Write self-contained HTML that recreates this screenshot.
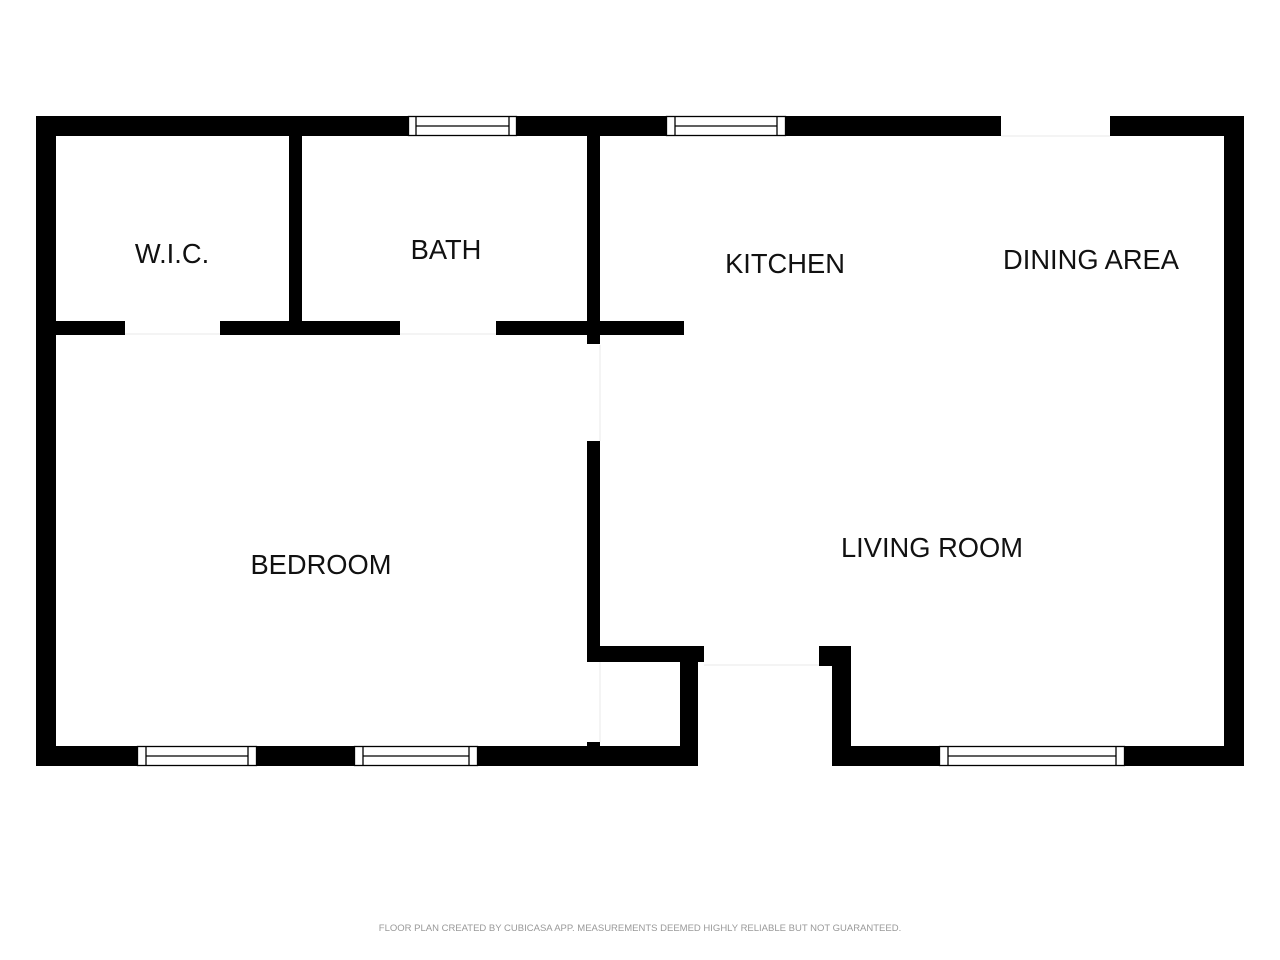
<!DOCTYPE html>
<html><head><meta charset="utf-8"><style>
html,body{margin:0;padding:0;background:#fff;width:1280px;height:960px;overflow:hidden}
svg{display:block}
text{font-family:"Liberation Sans",sans-serif;}
</style></head><body>
<svg width="1280" height="960" viewBox="0 0 1280 960" xmlns="http://www.w3.org/2000/svg">
<g fill="#000">
<rect x="36" y="116" width="965" height="20"/>
<rect x="1110" y="116" width="134" height="20"/>
<rect x="36" y="116" width="20" height="650"/>
<rect x="1224" y="116" width="20" height="650"/>
<rect x="36" y="746" width="662" height="20"/>
<rect x="832" y="746" width="412" height="20"/>
<rect x="289" y="136" width="13" height="192"/>
<rect x="587" y="136" width="13" height="208"/>
<rect x="56" y="321" width="69" height="14"/>
<rect x="220" y="321" width="180" height="14"/>
<rect x="496" y="321" width="188" height="14"/>
<rect x="587" y="441" width="13" height="221"/>
<rect x="587" y="742" width="13" height="6"/>
<rect x="587" y="646" width="117" height="16"/>
<rect x="680" y="646" width="18" height="120"/>
<rect x="819" y="646" width="32" height="20"/>
<rect x="832" y="646" width="19" height="120"/>
</g>
<g fill="none" stroke="#e8e8e8" stroke-width="1">
<line x1="704" y1="665" x2="819" y2="665"/>
<line x1="600" y1="345" x2="600" y2="441"/>
<line x1="600" y1="662" x2="600" y2="742"/>
<line x1="125" y1="334" x2="220" y2="334"/>
<line x1="400" y1="334" x2="496" y2="334"/>
<line x1="1001" y1="136" x2="1110" y2="136"/>
</g>
<g fill="#fff" stroke="#000" stroke-width="1.3">
<rect x="408.5" y="116.5" width="108" height="19"/><line x1="416" y1="117" x2="416" y2="135"/><line x1="509" y1="117" x2="509" y2="135"/><line x1="416" y1="126" x2="509" y2="126"/>
<rect x="666.5" y="116.5" width="119" height="19"/><line x1="675" y1="117" x2="675" y2="135"/><line x1="777" y1="117" x2="777" y2="135"/><line x1="675" y1="126" x2="777" y2="126"/>
<rect x="137.5" y="746.5" width="119" height="19"/><line x1="146" y1="747" x2="146" y2="765"/><line x1="248" y1="747" x2="248" y2="765"/><line x1="146" y1="756" x2="248" y2="756"/>
<rect x="354.5" y="746.5" width="123" height="19"/><line x1="363" y1="747" x2="363" y2="765"/><line x1="469" y1="747" x2="469" y2="765"/><line x1="363" y1="756" x2="469" y2="756"/>
<rect x="939.5" y="746.5" width="185" height="19"/><line x1="948" y1="747" x2="948" y2="765"/><line x1="1116" y1="747" x2="1116" y2="765"/><line x1="948" y1="756" x2="1116" y2="756"/>
</g>
<g fill="#111" font-size="27.3" text-anchor="middle">
<text x="172" y="263">W.I.C.</text>
<text x="446" y="259">BATH</text>
<text x="785" y="273">KITCHEN</text>
<text x="1091" y="269">DINING AREA</text>
<text x="321" y="574">BEDROOM</text>
<text x="932" y="557">LIVING ROOM</text>
</g>
<text x="640" y="931" fill="#999" font-size="9.5" text-anchor="middle">FLOOR PLAN CREATED BY CUBICASA APP. MEASUREMENTS DEEMED HIGHLY RELIABLE BUT NOT GUARANTEED.</text>
</svg>
</body></html>
